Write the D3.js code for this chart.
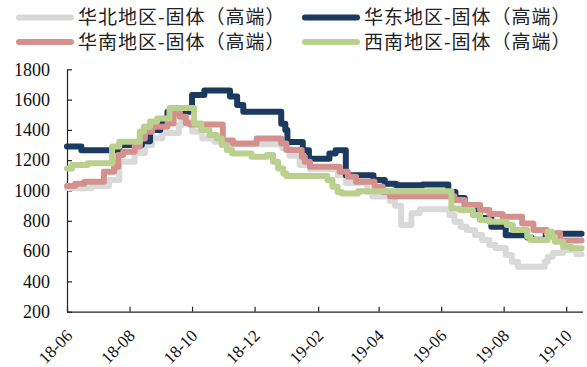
<!DOCTYPE html>
<html>
<head>
<meta charset="utf-8">
<script src="https://cdn.jsdelivr.net/npm/d3@7"></script>
<style>
  html, body { margin: 0; padding: 0; background: #fff; }
  svg { display: block; }
</style>
</head>
<body>
<svg id="chart" width="587" height="367"></svg>
<script>
// Weekly high-end solid price by region: each series is listed as the
// dates on which the price changed and the price from that date on.
const seriesNames = ["华北地区-固体（高端）", "华东地区-固体（高端）", "华南地区-固体（高端）", "西南地区-固体（高端）"];
const seriesColors = ["#d9d9d9", "#1b3a60", "#d4908d", "#bad08f"];

const huabeiDates = ["2018-06-01","2018-06-25","2018-07-12","2018-07-22","2018-08-06","2018-08-16","2018-08-23","2018-09-02","2018-09-18","2018-09-21","2018-10-01","2018-10-11","2018-10-23","2018-11-03","2018-12-28","2019-01-04","2019-01-14","2019-01-24","2019-02-20","2019-02-28","2019-03-21","2019-03-26","2019-04-12","2019-04-17","2019-04-23","2019-05-03","2019-05-11","2019-06-09","2019-06-14","2019-06-20","2019-06-26","2019-07-04","2019-07-11","2019-07-18","2019-07-24","2019-08-03","2019-08-09","2019-08-15","2019-09-10","2019-09-13","2019-09-18","2019-09-28","2019-10-11"];
const huabeiValues = [1015,1030,1070,1190,1247,1300,1345,1380,1432,1454,1390,1344,1322,1305,1280,1230,1168,1140,1100,1050,990,960,930,900,772,850,876,838,794,761,739,706,673,640,620,574,530,497,530,563,587,607,580];

const huadongDates = ["2018-06-01","2018-06-15","2018-07-22","2018-08-13","2018-08-21","2018-08-31","2018-09-07","2018-10-01","2018-10-13","2018-11-07","2018-11-14","2018-11-20","2018-12-27","2018-12-31","2019-01-02","2019-01-17","2019-01-23","2019-02-12","2019-02-18","2019-02-28","2019-03-27","2019-04-07","2019-04-18","2019-05-14","2019-06-08","2019-06-15","2019-06-24","2019-07-06","2019-07-09","2019-07-20","2019-08-03","2019-08-24","2019-08-28","2019-09-11"];
const huadongValues = [1290,1265,1300,1325,1400,1440,1520,1630,1660,1620,1565,1520,1440,1400,1320,1265,1210,1245,1265,1100,1070,1045,1035,1040,990,950,900,860,818,761,705,690,675,715];

const huananDates = ["2018-06-01","2018-06-09","2018-06-18","2018-07-07","2018-07-17","2018-07-21","2018-07-26","2018-08-06","2018-08-11","2018-08-16","2018-08-23","2018-09-07","2018-09-13","2018-09-19","2018-09-25","2018-09-29","2018-10-31","2018-11-10","2018-12-03","2018-12-27","2019-01-01","2019-01-16","2019-01-19","2019-01-24","2019-02-22","2019-03-02","2019-03-10","2019-03-28","2019-04-05","2019-04-12","2019-06-14","2019-06-24","2019-07-09","2019-07-18","2019-07-31","2019-08-19","2019-08-30","2019-09-12","2019-09-25"];
const huananValues = [1030,1045,1058,1124,1157,1234,1256,1289,1344,1388,1421,1443,1520,1487,1444,1435,1330,1311,1344,1311,1267,1223,1190,1157,1124,1091,1058,1025,990,962,937,904,871,845,827,783,739,717,670];

const xinanDates = ["2018-06-01","2018-06-06","2018-06-21","2018-07-15","2018-07-22","2018-08-11","2018-08-15","2018-08-21","2018-08-28","2018-09-09","2018-10-03","2018-10-10","2018-10-18","2018-10-25","2018-10-30","2018-11-04","2018-11-09","2018-11-28","2018-12-13","2018-12-19","2018-12-24","2018-12-29","2019-01-01","2019-02-10","2019-02-15","2019-02-20","2019-02-24","2019-03-12","2019-06-11","2019-06-19","2019-07-02","2019-07-09","2019-07-18","2019-08-04","2019-08-10","2019-08-24","2019-08-27","2019-09-13","2019-09-17","2019-09-20","2019-09-28","2019-10-06"];
const xinanValues = [1145,1168,1180,1290,1322,1390,1420,1455,1476,1545,1443,1400,1366,1344,1300,1267,1245,1223,1234,1190,1146,1113,1095,1069,1025,990,980,995,882,871,838,805,794,772,739,695,673,728,695,662,629,618];

const lastDate = "2019-10-16";
const yTicks = [200, 400, 600, 800, 1000, 1200, 1400, 1600, 1800];
const xTickDates = ["2018-06-01","2018-08-01","2018-10-01","2018-12-01","2019-02-01","2019-04-01","2019-06-01","2019-08-01","2019-10-01"];

const parse = d3.timeParse("%Y-%m-%d");
const seriesDates = [huabeiDates, huadongDates, huananDates, xinanDates];
const seriesValues = [huabeiValues, huadongValues, huananValues, xinanValues];

const series = seriesNames.map((name, i) => {
  const pts = seriesDates[i].map((d, j) => ({ date: parse(d), value: seriesValues[i][j] }));
  // carry the last price to the end of the period
  pts.push({ date: parse(lastDate), value: seriesValues[i][seriesValues[i].length - 1] });
  return { name, color: seriesColors[i], pts };
});

const svg = d3.select("#chart");
const serif = "'Liberation Serif', 'Times New Roman', serif";

const x = d3.scaleTime()
  .domain([parse("2018-06-01"), parse("2019-10-17")])
  .range([67, 582.6]);
const y = d3.scaleLinear()
  .domain([200, 1800])
  .range([311.7, 69.3]);

// axes
const yAxis = d3.axisLeft(y)
  .tickValues(yTicks)
  .tickFormat(d3.format("d"))
  .tickSize(-5).tickSizeOuter(0).tickPadding(17);
const gy = svg.append("g").attr("transform", "translate(67,0)").call(yAxis);
gy.attr("font-family", serif).attr("font-size", 18);

const xAxis = d3.axisBottom(x)
  .tickValues(xTickDates.map(parse))
  .tickSize(-5).tickSizeOuter(0)
  .tickFormat(d3.timeFormat("%y-%m"));
const gx = svg.append("g").attr("transform", "translate(0,311.7)").call(xAxis);
gx.attr("font-family", serif).attr("font-size", 17);
gx.selectAll(".tick text")
  .attr("text-anchor", "end")
  .attr("x", 0).attr("y", 0).attr("dy", 0)
  .attr("transform", "translate(6,25) rotate(-45)");

[gx, gy].forEach(g => {
  g.select(".domain").attr("stroke", "#222").attr("stroke-width", 1.2);
  g.selectAll(".tick line").attr("stroke", "#222").attr("stroke-width", 1.2);
  g.selectAll(".tick text").attr("fill", "#111");
});

// lines
const line = d3.line()
  .x(d => x(d.date))
  .y(d => y(d.value))
  .curve(d3.curveStepAfter);

svg.append("g").selectAll("path")
  .data(series)
  .join("path")
  .attr("fill", "none")
  .attr("stroke", d => d.color)
  .attr("stroke-width", 6)
  .attr("stroke-linejoin", "round")
  .attr("stroke-linecap", "round")
  .attr("d", d => line(d.pts));

// legend
const legendPos = [[19, 17.5], [305, 17.5], [19, 42], [305, 42]];
const lg = svg.append("g")
  .attr("font-family", "'Noto Sans CJK SC', sans-serif")
  .attr("font-size", 19)
  .attr("letter-spacing", "1px")
  .attr("fill", "#222");
series.forEach((s, i) => {
  const [lx, ly] = legendPos[i];
  lg.append("line")
    .attr("x1", lx).attr("x2", lx + 52)
    .attr("y1", ly).attr("y2", ly)
    .attr("stroke", s.color).attr("stroke-width", 6)
    .attr("stroke-linecap", "round");
  lg.append("text")
    .attr("x", lx + 59).attr("y", ly)
    .attr("dy", "0.35em")
    .text(s.name);
});
</script>
</body>
</html>
